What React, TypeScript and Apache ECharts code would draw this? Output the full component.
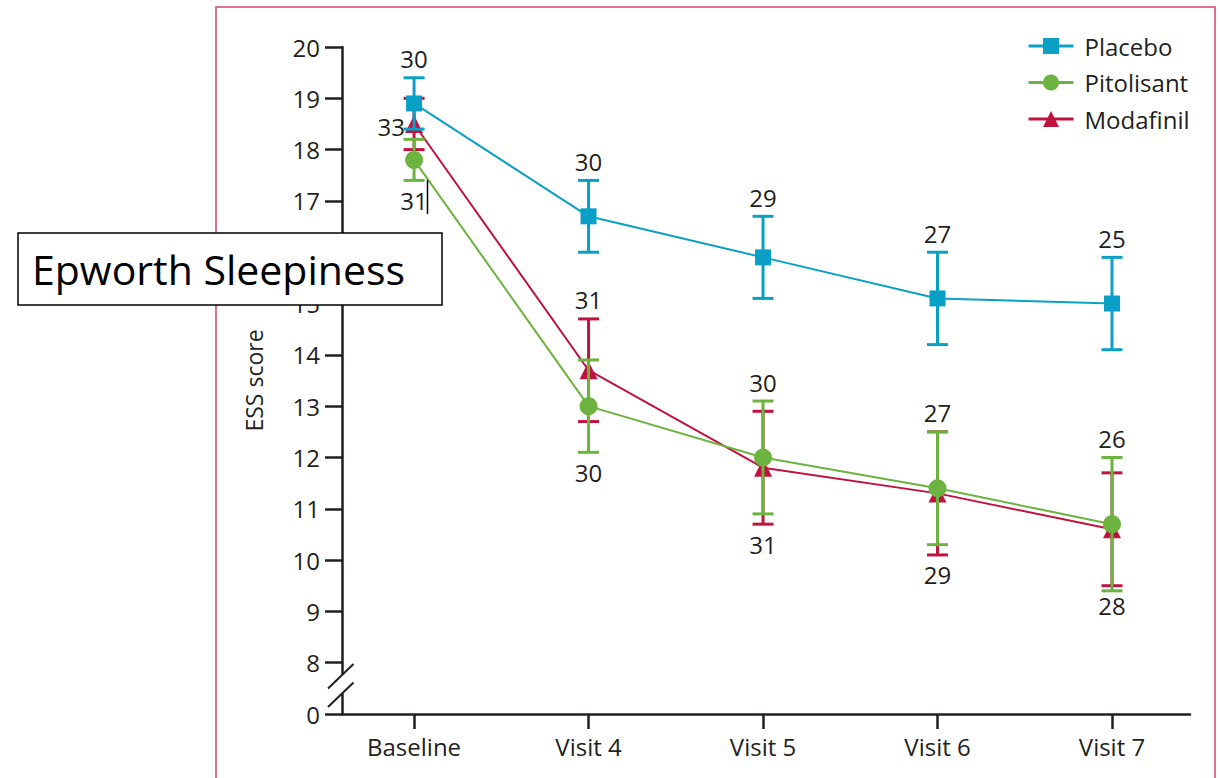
import React, { useEffect, useRef } from "react";
import * as echarts from "echarts";

const categories = ["Baseline", "Visit 4", "Visit 5", "Visit 6", "Visit 7"];
const yLabelBreakValue = 7; // shown as "0" below the axis break

const placeboMean = [18.9, 16.7, 15.9, 15.1, 15.0];
const placeboErr = [0.5, 0.7, 0.8, 0.9, 0.9];
const placeboN = [30, 30, 29, 27, 25];

const pitolisantMean = [17.8, 13.0, 12.0, 11.4, 10.7];
const pitolisantErr = [0.4, 0.9, 1.1, 1.1, 1.3];
const pitolisantN = [31, 30, 30, 27, 26];

const modafinilMean = [18.5, 13.7, 11.8, 11.3, 10.6];
const modafinilErr = [0.5, 1.0, 1.1, 1.2, 1.1];
const modafinilN = [33, 31, 31, 29, 28];

const placeboNPlace = ["top", "top", "top", "top", "top"];
const pitolisantNPlace = ["bottom", "bottom", "top", "top", "top"];
const modafinilNPlace = ["left", "top", "bottom", "bottom", "bottom"];

const FONT = "Open Sans";
const TXT = "#231f20";
const C_PLA = "#0aa0c6";
const C_PIT = "#6cb33f";
const C_MOD = "#c0123f";

function lineData(mean: number[]) {
  return mean.map((m, i) => [i, m]);
}
function errData(mean: number[], err: number[], n: number[]) {
  return mean.map((m, i) => [i, m, err[i], n[i]]);
}

function errSeries(name: string, color: string, mean: number[], err: number[], n: number[], place: string[], z: number) {
  return {
    type: "custom",
    name: name + " SE",
    z,
    clip: false,
    silent: true,
    encode: { x: 0, y: 1 },
    data: errData(mean, err, n),
    renderItem: (params: any, api: any) => {
      const x = api.value(0);
      const m = api.value(1);
      const e = api.value(2);
      const cnt = api.value(3);
      const top = api.coord([x, m + e]);
      const bot = api.coord([x, m - e]);
      const mid = api.coord([x, m]);
      const hw = 10.5;
      const ls = { stroke: color, lineWidth: 3 };
      const p = place[params.dataIndex];
      let tx = top[0];
      let ty = top[1] - 19;
      let align = "center";
      if (p === "bottom") {
        ty = bot[1] + 20;
      } else if (p === "left") {
        tx = mid[0] - 9;
        ty = mid[1] + 3;
        align = "right";
      }
      return {
        type: "group",
        children: [
          { type: "line", shape: { x1: top[0], y1: top[1], x2: bot[0], y2: bot[1] }, style: ls },
          { type: "line", shape: { x1: top[0] - hw, y1: top[1], x2: top[0] + hw, y2: top[1] }, style: ls },
          { type: "line", shape: { x1: bot[0] - hw, y1: bot[1], x2: bot[0] + hw, y2: bot[1] }, style: ls },
          {
            type: "text",
            style: {
              x: tx,
              y: ty,
              text: String(cnt),
              fill: TXT,
              font: `24px "${FONT}"`,
              align,
              verticalAlign: "middle",
            },
          },
        ],
      };
    },
  };
}

function lineSeries(name: string, color: string, mean: number[], symbol: string, size: number, z: number) {
  return {
    type: "line",
    name,
    z,
    data: lineData(mean),
    symbol,
    symbolSize: size,
    showSymbol: true,
    lineStyle: { color, width: 2 },
    itemStyle: { color },
    clip: false,
  };
}

export default function App() {
  const ref = useRef<HTMLDivElement>(null);
  useEffect(() => {
    document.body.style.margin = "0";
    if (!ref.current) return;
    const chart = echarts.init(ref.current, undefined, { renderer: "svg" });
    const option: any = {
      animation: false,
      backgroundColor: "#ffffff",
      grid: { left: 342, right: 30, top: 47, bottom: 64, containLabel: false, outerBoundsMode: "none" },
      legend: {
        orient: "vertical",
        left: 1027,
        top: 34,
        padding: 0,
        itemWidth: 45,
        itemHeight: 20,
        itemGap: 12.5,
        data: ["Placebo", "Pitolisant", "Modafinil"],
        lineStyle: { width: 3 },
        textStyle: { fontFamily: FONT, fontSize: 24, color: TXT, lineHeight: 24, padding: [0, 0, 0, 6] },
      },
      xAxis: {
        type: "value",
        min: -0.413,
        max: 4.447,
        splitLine: { show: false },
        axisLine: { show: true, onZero: false, lineStyle: { color: TXT, width: 2.5 } },
        axisTick: {
          show: true,
          customValues: categories.map((_, i) => i),
          length: 15,
          lineStyle: { color: TXT, width: 2.5 },
        },
        axisLabel: {
          customValues: categories.map((_, i) => i),
          formatter: (v: number) => categories[Math.round(v)] ?? "",
          fontFamily: FONT,
          fontSize: 24,
          color: TXT,
          margin: 20,
        },
      },
      yAxis: {
        type: "value",
        min: 7,
        max: 20,
        interval: 1,
        splitLine: { show: false },
        axisLine: { show: true, onZero: false, lineStyle: { color: TXT, width: 2.5 } },
        axisTick: { show: true, length: 17, lineStyle: { color: TXT, width: 2.5 } },
        axisLabel: {
          formatter: (v: number) => (v === yLabelBreakValue ? "0" : String(v)),
          fontFamily: FONT,
          fontSize: 24,
          color: TXT,
          margin: 22,
        },
        name: "ESS score",
        nameLocation: "middle",
        nameGap: 77,
        nameTextStyle: { fontFamily: FONT, fontSize: 23, color: TXT },
      },
      graphic: [
        {
          type: "rect",
          z: 0,
          silent: true,
          shape: { x: 216, y: 7, width: 999, height: 820 },
          style: { fill: "none", stroke: "#d4436c", lineWidth: 1.5 },
        },
        {
          type: "rect",
          z: 100,
          silent: true,
          shape: { x: 338, y: 675, width: 8, height: 18.5 },
          style: { fill: "#ffffff" },
        },
        {
          type: "line",
          z: 101,
          silent: true,
          shape: { x1: 328, y1: 688.5, x2: 353.5, y2: 664 },
          style: { stroke: TXT, lineWidth: 2 },
        },
        {
          type: "line",
          z: 101,
          silent: true,
          shape: { x1: 328, y1: 707, x2: 353.5, y2: 682.5 },
          style: { stroke: TXT, lineWidth: 2 },
        },
        {
          type: "line",
          z: 101,
          silent: true,
          shape: { x1: 427.5, y1: 180, x2: 427.5, y2: 214 },
          style: { stroke: "#000000", lineWidth: 1.5 },
        },
        {
          type: "rect",
          z: 110,
          silent: true,
          shape: { x: 18, y: 233, width: 424, height: 72 },
          style: { fill: "#ffffff", stroke: "#000000", lineWidth: 1.5 },
        },
        {
          type: "text",
          z: 111,
          silent: true,
          style: {
            x: 32,
            y: 269,
            text: "Epworth Sleepiness",
            fill: "#000000",
            font: `41px "${FONT}"`,
            align: "left",
            verticalAlign: "middle",
          },
        },
      ],
      series: [
        errSeries("Modafinil", C_MOD, modafinilMean, modafinilErr, modafinilN, modafinilNPlace, 2),
        lineSeries("Modafinil", C_MOD, modafinilMean, "triangle", 18, 3),
        errSeries("Pitolisant", C_PIT, pitolisantMean, pitolisantErr, pitolisantN, pitolisantNPlace, 4),
        lineSeries("Pitolisant", C_PIT, pitolisantMean, "circle", 18, 5),
        errSeries("Placebo", C_PLA, placeboMean, placeboErr, placeboN, placeboNPlace, 6),
        lineSeries("Placebo", C_PLA, placeboMean, "rect", 16, 7),
      ],
    };
    chart.setOption(option);
    return () => chart.dispose();
  }, []);
  return <div ref={ref} style={{ width: 1220, height: 778 }} />;
}
